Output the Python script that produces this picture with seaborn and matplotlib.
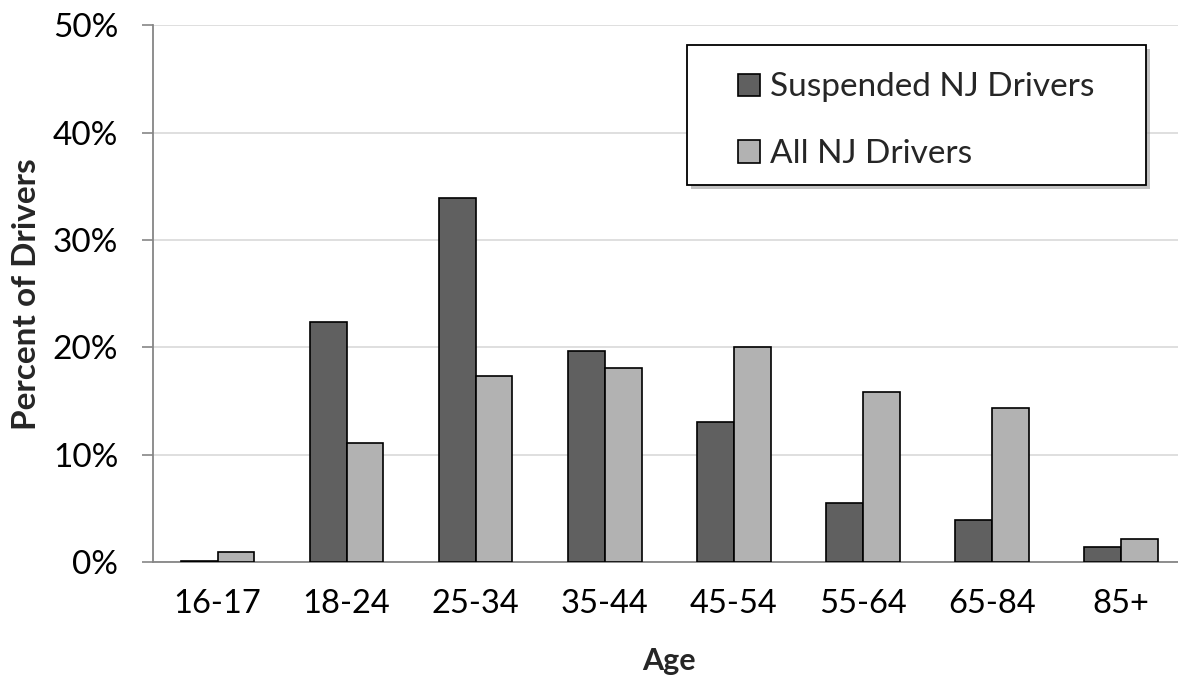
import matplotlib
matplotlib.use("Agg")
import matplotlib.pyplot as plt
from matplotlib.patches import Rectangle
from matplotlib.ticker import FixedLocator, FuncFormatter
import seaborn as sns
import pandas as pd

# ---- data ----
age_groups = ["16-17", "18-24", "25-34", "35-44", "45-54", "55-64", "65-84", "85+"]
suspended = [0.15, 22.4, 33.9, 19.7, 13.1, 5.5, 3.9, 1.4]
all_drivers = [1.0, 11.1, 17.3, 18.1, 20.0, 15.9, 14.4, 2.2]
series_names = ["Suspended NJ Drivers", "All NJ Drivers"]
y_ticks = [0, 10, 20, 30, 40, 50]

df = pd.DataFrame({
    "Age": age_groups * 2,
    "Percent": suspended + all_drivers,
    "Series": [series_names[0]] * len(age_groups) + [series_names[1]] * len(age_groups),
})

sns.set_style("white")
plt.rcParams["font.family"] = ["Lato", "DejaVu Sans"]

W, H = 1178, 683
fig = plt.figure(figsize=(W / 100, H / 100), dpi=100)
ax = fig.add_axes([153 / W, (H - 562.3) / H, (1185.6 - 153) / W, (562.3 - 25.3) / H])

sns.barplot(data=df, x="Age", y="Percent", hue="Series", order=age_groups,
            hue_order=series_names, palette=["#606060", "#b2b2b2"],
            width=0.57, edgecolor="black", linewidth=1.2, saturation=1,
            ax=ax, zorder=3)

axis_gray = "#868686"
ax.set_ylim(0, 50)
ax.set_xlim(-0.5, len(age_groups) - 0.5)
ax.yaxis.set_major_locator(FixedLocator(y_ticks))
ax.yaxis.set_major_formatter(FuncFormatter(lambda v, p: f"{int(v)}%"))
ax.grid(axis="y", color="#d9d9d9", linewidth=1.2, zorder=0)
ax.set_axisbelow(True)

for s in ["top", "right"]:
    ax.spines[s].set_visible(False)
for s in ["left", "bottom"]:
    ax.spines[s].set_color(axis_gray)
    ax.spines[s].set_linewidth(1.3)

# category ticks at boundaries
ax.set_xticks(range(len(age_groups)))
ax.set_xticklabels(age_groups)
ax.set_xticks([i - 0.5 for i in range(len(age_groups) + 1)], minor=True)
ax.tick_params(axis="x", which="major", length=0, pad=19, labelsize=23.5, colors="black")
ax.tick_params(axis="x", which="minor", length=8, width=1.2, color=axis_gray, direction="out")
ax.tick_params(axis="y", which="major", length=8, width=1.2, color=axis_gray, direction="out",
               pad=17, labelsize=24, labelcolor="black", left=True)

ax.set_xlabel("Age", fontsize=22, fontweight="bold")
ax.set_ylabel("Percent of Drivers", fontsize=24, fontweight="bold")
ax.xaxis.set_label_coords(0.5, -0.158)
ax.yaxis.set_label_coords(-0.108, 0.5)

# legend box with shadow
bx, by, bw, bh = 686.7, 45, 459, 140
shadow = Rectangle(((bx + 4) / W, (H - by - bh - 4) / H), bw / W, bh / H,
                   transform=fig.transFigure, facecolor="#9a9a9a", edgecolor="none",
                   alpha=0.6, zorder=4, clip_on=False)
box = Rectangle((bx / W, (H - by - bh) / H), bw / W, bh / H,
                transform=fig.transFigure, facecolor="white", edgecolor="black",
                linewidth=1.3, zorder=4.5, clip_on=False)
ax.add_artist(shadow)
ax.add_artist(box)

handles, labels = ax.get_legend_handles_labels()
leg = ax.legend(handles, labels, loc="upper left",
                bbox_to_anchor=(738 / W, 1 - 72.5 / H), bbox_transform=fig.transFigure,
                frameon=False, borderpad=0, borderaxespad=0, fontsize=24,
                handlelength=0.66, handleheight=0.66, handletextpad=0.3,
                labelspacing=1.1)
leg.set_zorder(6)
for h in leg.legend_handles:
    h.set_edgecolor("black")
    h.set_linewidth(1.2)

fig.savefig("out.png", dpi=100)
